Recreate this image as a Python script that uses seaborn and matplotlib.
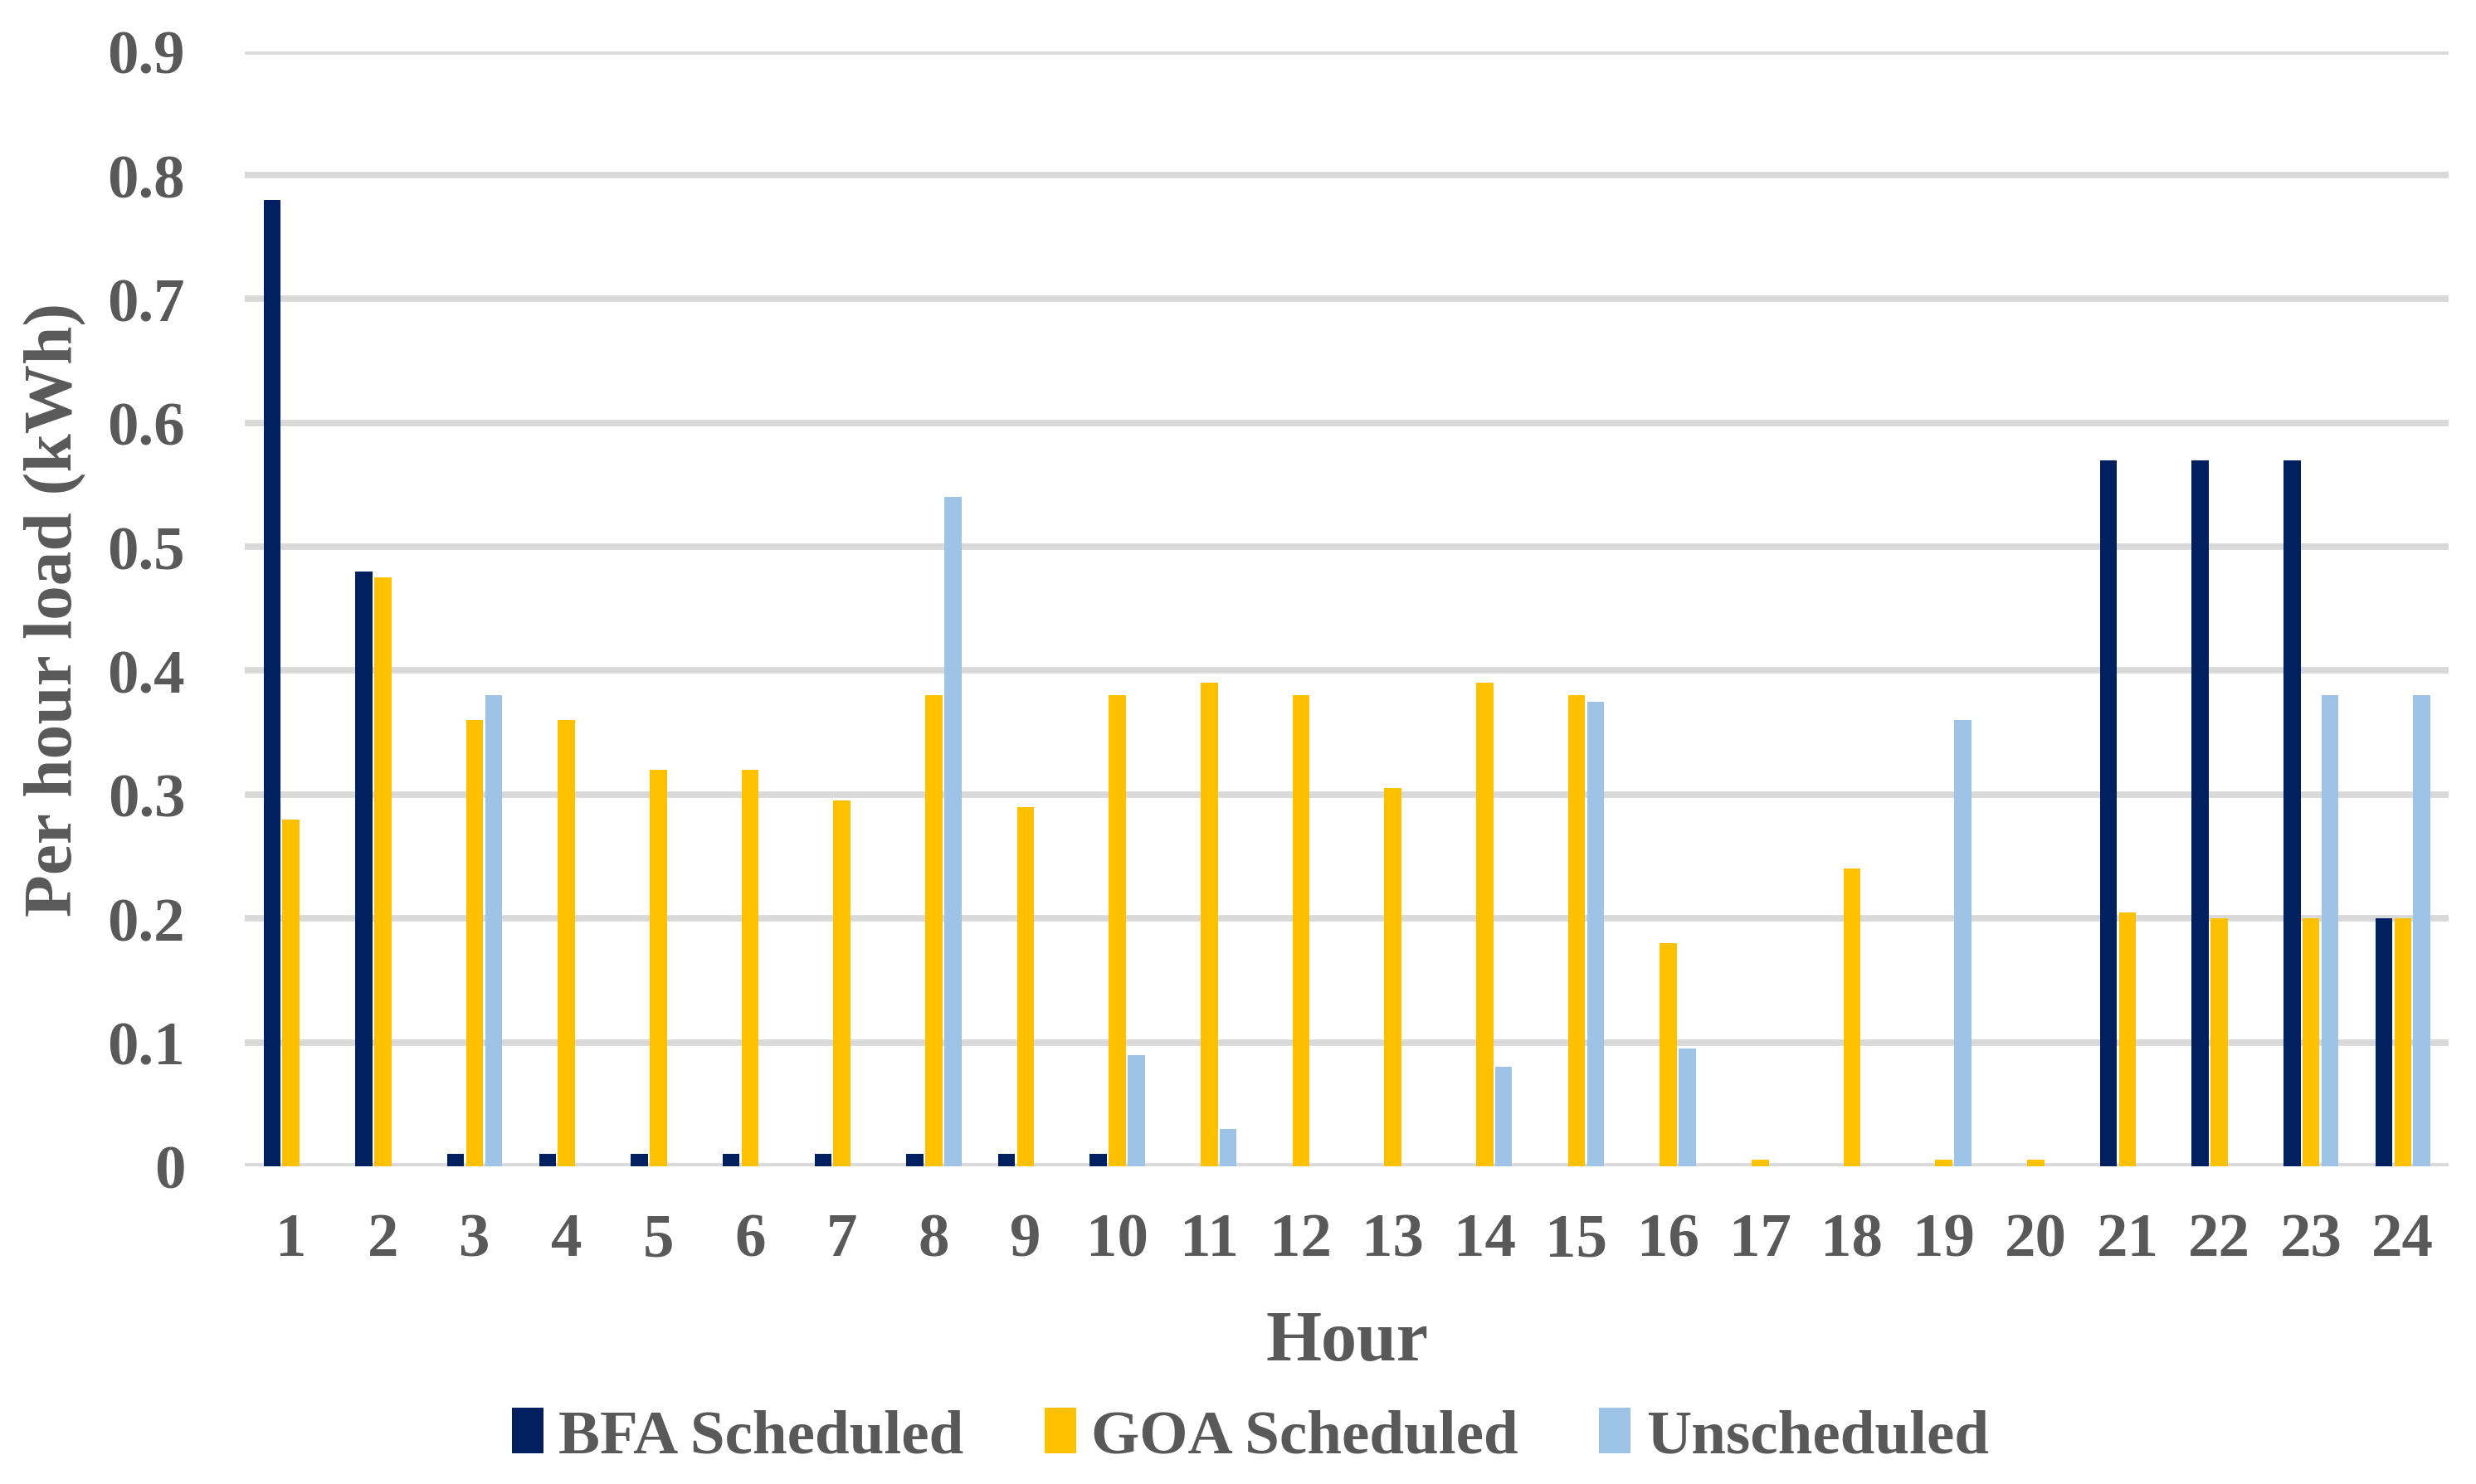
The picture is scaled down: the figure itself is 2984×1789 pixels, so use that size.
import pandas as pd
import numpy as np
import matplotlib
matplotlib.use("Agg")
import matplotlib.pyplot as plt
import seaborn as sns

# =========================
# DATOS
# =========================
horas = list(range(1, 25))

bfa = [0.78, 0.48, 0.01, 0.01, 0.01, 0.01, 0.01, 0.01, 0.01, 0.01, 0, 0,
       0, 0, 0, 0, 0, 0, 0, 0, 0.57, 0.57, 0.57, 0.20]
goa = [0.28, 0.475, 0.36, 0.36, 0.32, 0.32, 0.295, 0.38, 0.29, 0.38, 0.39, 0.38,
       0.305, 0.39, 0.38, 0.18, 0.005, 0.24, 0.005, 0.005, 0.205, 0.20, 0.20, 0.20]
unsch = [0, 0, 0.38, 0, 0, 0, 0, 0.54, 0, 0.09, 0.03, 0,
         0, 0.08, 0.375, 0.095, 0, 0, 0.36, 0, 0, 0, 0.38, 0.38]

series = ["BFA Scheduled", "GOA Scheduled", "Unscheduled"]
colores = ["#002060", "#FFC000", "#9DC3E6"]

df = pd.DataFrame({
    "Hour": horas * 3,
    "Serie": np.repeat(series, len(horas)),
    "Load": bfa + goa + unsch,
})

# =========================
# FIGURA
# =========================
sns.set_style("white")
plt.rcParams["font.family"] = ["Liberation Serif", "DejaVu Serif"]
gris = "#595959"

fig, ax = plt.subplots(figsize=(14.92, 8.95), dpi=200)
fig.subplots_adjust(left=0.099, right=0.989, top=0.965, bottom=0.214)

sns.barplot(
    data=df, x="Hour", y="Load", hue="Serie",
    palette=dict(zip(series, colores)), saturation=1,
    width=0.62, gap=0.1, linewidth=0, ax=ax, legend=True,
)

ax.set_ylim(0, 0.9)
ax.set_yticks(np.arange(0, 0.91, 0.1))
ax.set_yticklabels(["0"] + [f"{v:.1f}" for v in np.arange(0.1, 0.91, 0.1)])
ax.set_xlim(-0.5, 23.5)
ax.yaxis.grid(True, color="#D9D9D9", linewidth=2.8)
ax.set_axisbelow(True)
for s in ax.spines.values():
    s.set_visible(False)

ax.tick_params(axis="both", length=0, labelsize=27, colors=gris)
ax.tick_params(axis="x", pad=20)
ax.tick_params(axis="y", pad=26)
for lbl in ax.get_xticklabels() + ax.get_yticklabels():
    lbl.set_fontweight("bold")

ax.set_xlabel("Hour", fontsize=31, fontweight="bold", color=gris, labelpad=18)
ax.set_ylabel("Per hour load (kWh)", fontsize=30, fontweight="bold", color=gris, labelpad=9)

handles, labels = ax.get_legend_handles_labels()
ax.legend_.remove()
fig.legend(
    handles, labels, loc="center", bbox_to_anchor=(0.505, 0.032), ncol=3,
    frameon=False, handlelength=0.5, handleheight=0.75, handletextpad=0.25,
    columnspacing=1.3, prop={"size": 27, "weight": "bold"}, labelcolor=gris,
)

plt.savefig("out.png", dpi=200)
